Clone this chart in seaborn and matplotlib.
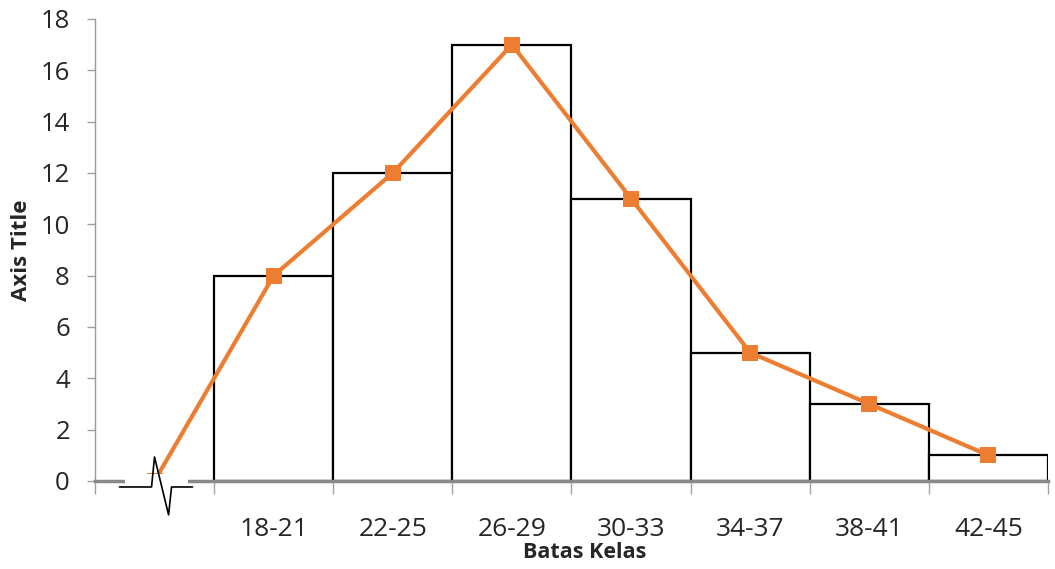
import numpy as np
import pandas as pd
import matplotlib
matplotlib.use("Agg")
import matplotlib.pyplot as plt
import seaborn as sns

# Class intervals and frequencies
kelas = ["18-21", "22-25", "26-29", "30-33", "34-37", "38-41", "42-45"]
frekuensi = [8, 12, 17, 11, 5, 3, 1]
# Frequency polygon starts from an empty class before the first interval
poligon = [0, 8, 12, 17, 11, 5, 3, 1]
y_ticks = [0, 2, 4, 6, 8, 10, 12, 14, 16, 18]

sns.set_theme(style="white")
plt.rcParams["font.family"] = ["Open Sans", "DejaVu Sans"]

fig = plt.figure(figsize=(10.55, 5.69), dpi=100)
ax = fig.add_axes([0.090, 0.1547, 0.9034, 0.812])

order = [" "] + kelas
df = pd.DataFrame({"kelas": kelas, "frekuensi": frekuensi})
sns.barplot(data=df, x="kelas", y="frekuensi", order=order, width=1.0,
            color="white", edgecolor="black", linewidth=1.6, ax=ax, zorder=2)

pos = np.arange(len(poligon))
sns.lineplot(x=pos, y=poligon, ax=ax, color="#ED7D31", linewidth=3,
             marker="s", markersize=11, markeredgewidth=0, zorder=4)

ax.set_xlim(-0.5, len(order) - 0.5)
ax.set_ylim(0, 18)
ax.set_yticks(y_ticks)

# Boundary ticks without labels, category labels centred without ticks
ax.set_xticks(np.arange(len(order) + 1) - 0.5)
ax.set_xticklabels([])
ax.set_xticks(pos, minor=True)
ax.set_xticklabels([""] + kelas, minor=True)
ax.tick_params(axis="x", which="major", length=9, width=1, color="#A0A0A0",
               direction="out", bottom=True)
ax.tick_params(axis="x", which="minor", length=0, pad=26, labelsize=19)
ax.tick_params(axis="y", length=6, width=1, color="#A0A0A0", direction="out",
               left=True, pad=12, labelsize=18.5)

for s in ["top", "right"]:
    ax.spines[s].set_visible(False)
ax.spines["left"].set_color("#9A9A9A")
ax.spines["left"].set_linewidth(1)
ax.spines["bottom"].set_color("#898989")
ax.spines["bottom"].set_linewidth(2.5)
ax.spines["bottom"].set_zorder(3)

ax.set_xlabel("Batas Kelas", fontsize=15.5, fontweight="bold")
ax.xaxis.set_label_coords(0.514, -0.154)
ax.xaxis.label.set_va("center")
ax.set_ylabel("Axis Title", fontsize=16, fontweight="bold")
ax.yaxis.set_label_coords(-0.077, 0.5)
ax.yaxis.label.set_va("center")

# Axis break symbol on the empty first class
ax.fill_between([-0.25, 0.28], -0.6, 0.27, color="white", zorder=5,
                clip_on=False, linewidth=0)
zx = np.array([-0.294, -0.025, 0.0, 0.118, 0.143, 0.319])
zy = np.array([-0.234, -0.234, 0.935, -1.32, -0.234, -0.234])
ax.plot(zx, zy, color="black", linewidth=1.2, zorder=6, clip_on=False)

fig.savefig("out.png", dpi=100)
